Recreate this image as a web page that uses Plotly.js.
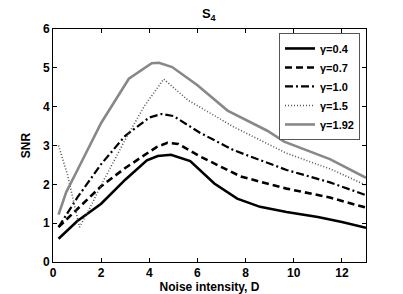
<!DOCTYPE html>
<html>
<head>
<meta charset="utf-8">
<script src="https://cdn.plot.ly/plotly-3.0.1.min.js"></script>
<style>html,body{margin:0;padding:0;background:#fff;}#chart{width:403px;height:294px;}</style>
</head>
<body>
<div id="chart"></div>
<script>
const seriesNames = ["γ=0.4", "γ=0.7", "γ=1.0", "γ=1.5", "γ=1.92"];

const x04 = [0.23, 1.0, 2.0, 3.0, 3.9, 4.35, 4.9, 5.7, 6.7, 7.65, 8.6, 9.7, 11.0, 12.0, 13.0];
const y04 = [0.60, 1.05, 1.50, 2.12, 2.62, 2.73, 2.76, 2.60, 2.02, 1.63, 1.42, 1.29, 1.16, 1.03, 0.88];

const x07 = [0.23, 1.0, 2.0, 3.0, 4.3, 4.75, 5.2, 6.1, 7.8, 9.7, 11.5, 13.0];
const y07 = [0.90, 1.35, 1.95, 2.42, 2.96, 3.07, 3.04, 2.72, 2.20, 1.89, 1.66, 1.40];

const x10 = [0.23, 1.0, 2.0, 3.0, 4.0, 4.5, 5.0, 6.1, 7.5, 9.7, 11.5, 13.0];
const y10 = [0.90, 1.65, 2.52, 3.25, 3.72, 3.81, 3.76, 3.33, 2.88, 2.37, 2.05, 1.72];

const x15 = [0.23, 0.6, 1.1, 1.5, 2.0, 3.0, 3.8, 4.6, 5.6, 7.5, 9.7, 11.5, 13.0];
const y15 = [3.00, 2.25, 0.90, 1.35, 1.98, 3.15, 4.02, 4.71, 4.17, 3.48, 2.80, 2.40, 1.98];

const x192 = [0.23, 0.55, 1.0, 2.0, 3.15, 4.1, 4.4, 4.95, 6.0, 7.25, 8.9, 9.6, 11.5, 13.0];
const y192 = [1.22, 1.80, 2.35, 3.58, 4.72, 5.12, 5.13, 5.02, 4.55, 3.90, 3.38, 3.10, 2.65, 2.17];

const xTicks = [0, 2, 4, 6, 8, 10, 12];
const yTicks = [0, 1, 2, 3, 4, 5, 6];

const styles = [
  {color: "#000000", width: 2.6, dash: "solid"},
  {color: "#000000", width: 2.6, dash: "7px,4px"},
  {color: "#000000", width: 2.2, dash: "8px,3px,2px,3px"},
  {color: "#555555", width: 1.6, dash: "1px,2px"},
  {color: "#888888", width: 2.6, dash: "solid"}
];
const xs = [x04, x07, x10, x15, x192];
const ys = [y04, y07, y10, y15, y192];

const traces = xs.map((xv, i) => ({
  x: xv, y: ys[i], name: seriesNames[i], type: "scatter", mode: "lines",
  line: {color: styles[i].color, width: styles[i].width, dash: styles[i].dash}
}));

const fam = "Liberation Sans, Arial, sans-serif";
const bold = (s) => ({family: fam, size: s, color: "#000", weight: "bold"});
const layout = {
  width: 403, height: 294,
  margin: {l: 53, r: 37, t: 29, b: 32},
  paper_bgcolor: "#fff", plot_bgcolor: "#fff",
  font: bold(12),
  showlegend: true,
  title: {text: "S<sub>4</sub>", x: 0.518, xanchor: "center", y: 0.955, yanchor: "middle", font: bold(13)},
  xaxis: {
    range: [0, 13], tickvals: xTicks, ticktext: xTicks.map(String),
    ticks: "inside", ticklen: 4, tickcolor: "#000", mirror: "ticks",
    showline: true, linecolor: "#000", linewidth: 1, showgrid: false, zeroline: false,
    tickfont: bold(12),
    title: {text: "Noise intensity, D", standoff: 1, font: bold(12)}
  },
  yaxis: {
    range: [0, 6], tickvals: yTicks, ticktext: yTicks.map(String),
    ticks: "inside", ticklen: 4, tickcolor: "#000", mirror: "ticks",
    showline: true, linecolor: "#000", linewidth: 1, showgrid: false, zeroline: false,
    tickfont: bold(12),
    title: {text: "SNR", standoff: 9, font: bold(12)}
  },
  legend: {
    x: 0.722, y: 0.983, xanchor: "left", yanchor: "top",
    bgcolor: "#fff", bordercolor: "#555", borderwidth: 1,
    font: bold(11),
    itemwidth: 30, tracegroupgap: 0
  }
};
Plotly.newPlot("chart", traces, layout, {displayModeBar: false, staticPlot: true});
</script>
</body>
</html>
